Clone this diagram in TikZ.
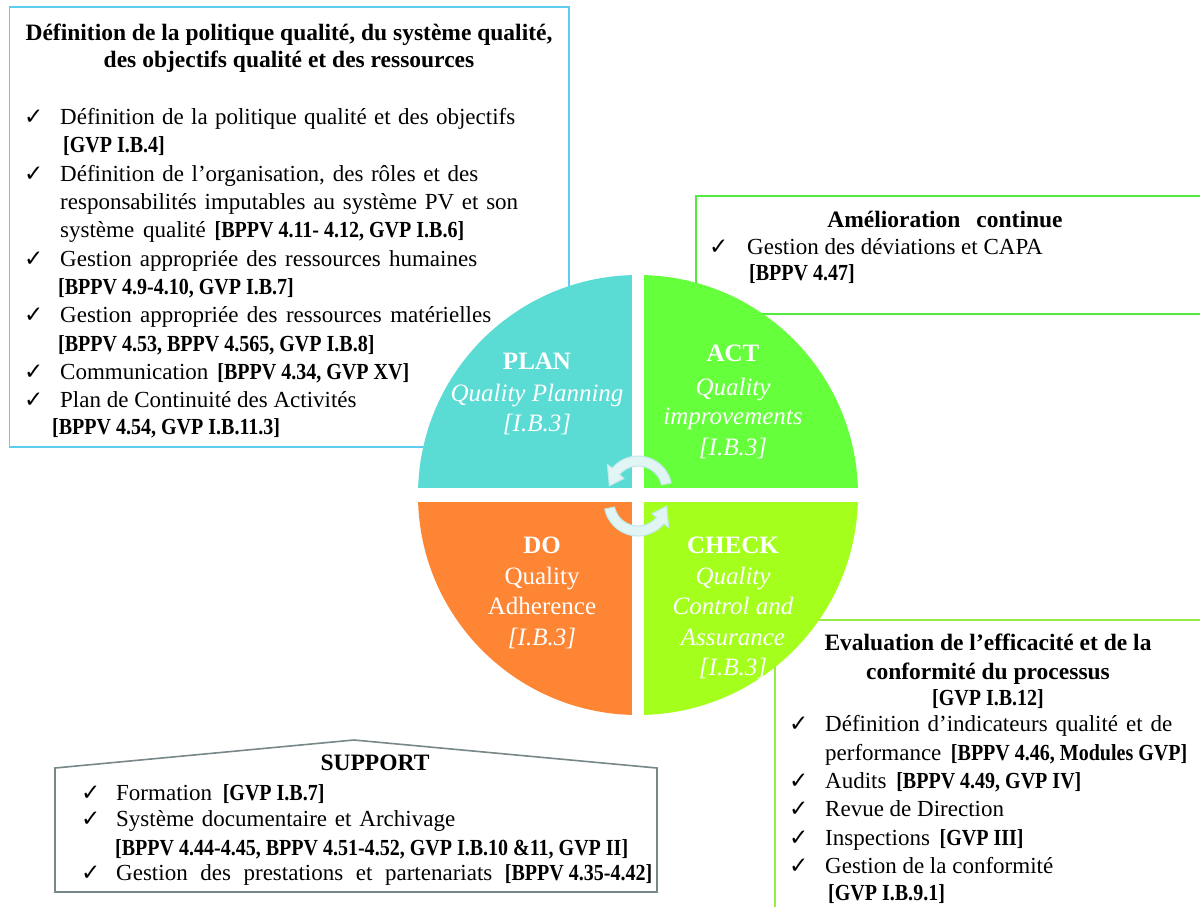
\documentclass[tikz,border=0pt]{standalone}
\usepackage{fontspec}
\setmainfont{Liberation Serif}
\newfontfamily\refserif{Liberation Serif}[FakeStretch=0.87]
\newfontfamily\chkfont{DejaVu Sans}
\newcommand{\refb}[1]{\mbox{\refserif\bfseries #1}}
\newcommand{\jline}[2]{\makebox[#1pt][s]{#2}}
\definecolor{planc}{RGB}{90,219,212}
\definecolor{actc}{RGB}{102,255,60}
\definecolor{doc}{RGB}{254,133,51}
\definecolor{checkc}{RGB}{164,255,28}
\definecolor{boxblue}{RGB}{95,205,240}
\definecolor{boxgreen}{RGB}{80,235,60}
\definecolor{boxlime}{RGB}{150,235,70}
\definecolor{boxgray}{RGB}{120,135,135}
\definecolor{arrfill}{RGB}{226,245,245}
\definecolor{arrline}{RGB}{190,232,232}
\tikzset{
  txt/.style={anchor=base west, inner sep=0pt, font=\fontsize{23}{28}\selectfont},
  ttl/.style={anchor=base, inner sep=0pt, font=\bfseries\fontsize{23.5}{28}\selectfont},
  ctr/.style={anchor=base, inner sep=0pt, font=\fontsize{23}{28}\selectfont},
  chk/.style={anchor=base west, inner sep=0pt, font=\chkfont\fontsize{23}{26}\selectfont},
  whead/.style={anchor=base, inner sep=0pt, text=white, font=\bfseries\fontsize{25}{30}\selectfont},
  wital/.style={anchor=base, inner sep=0pt, text=white, font=\itshape\fontsize{25}{30}\selectfont},
  wup/.style={anchor=base, inner sep=0pt, text=white, font=\fontsize{25}{30}\selectfont},
  frame/.style={line width=1.6pt},
  circarrow/.style={fill=arrfill, draw=arrline, line width=1pt, line join=round},
}
\begin{document}
\begin{tikzpicture}[x=1pt,y=-1pt]
\useasboundingbox (0,0) rectangle (1200,906);
\fill[white] (0,0) rectangle (1200,906);

% ---------- frames (behind the circle) ----------
\draw[frame, boxblue] (9.5,7) rectangle (569,447);
\draw[frame, boxgreen] (1210,196) -- (696,196) -- (696,314) -- (1210,314);
\draw[frame, boxlime] (775,915) -- (775,620) -- (1210,620);
\draw[frame, boxgray] (55,768) -- (354,740) -- (657,768) -- (657,892) -- (55,892) -- cycle;

% ---------- PDCA circle ----------
\begin{scope}
  \clip (638,495) circle[radius=220pt];
  \fill[planc]  (400,260) rectangle (632,488);
  \fill[actc]   (644,260) rectangle (880,488);
  \fill[doc]    (400,502) rectangle (632,730);
  \fill[checkc] (644,502) rectangle (880,730);
\end{scope}

% circular arrows
\begin{scope}[shift={(638,490)}]
  \filldraw[circarrow] (12:34pt) arc[start angle=12, end angle=140, radius=34pt]
    -- (140:40pt) -- (172:29pt) -- (140:18pt) -- (140:24pt)
    arc[start angle=140, end angle=12, radius=24pt] -- cycle;
\end{scope}
\begin{scope}[shift={(638,502)}]
  \filldraw[circarrow] (192:34pt) arc[start angle=192, end angle=320, radius=34pt]
    -- (320:40pt) -- (352:29pt) -- (320:18pt) -- (320:24pt)
    arc[start angle=320, end angle=192, radius=24pt] -- cycle;
\end{scope}

% quadrant labels
\node[whead] (plan)  at (537,369) {PLAN};
\node[wital] (plan2) at (537,401) {Quality Planning};
\node[wital] (plan3) at (537,431) {[I.B.3]};
\node[whead] (act)   at (733,361) {ACT};
\node[wital] (act2)  at (733,395) {Quality};
\node[wital] (act3)  at (733,424) {improvements};
\node[wital] (act4)  at (733,455) {[I.B.3]};
\node[whead] (do)    at (542,553) {DO};
\node[wup]   (do2)   at (542,584) {Quality};
\node[wup]   (do3)   at (542,614) {Adherence};
\node[wital] (do4)   at (542,645) {[I.B.3]};
\node[whead] (chk)   at (733,553) {CHECK};
\node[wital] (chk2)  at (733,584) {Quality};
\node[wital] (chk3)  at (733,614) {Control and};
\node[wital] (chk4)  at (733,645) {Assurance};
\node[wital] (chk5)  at (733,675) {[I.B.3]};

% ---------- top-left box ----------
\node[ttl] (t1) at (289,40) {Définition de la politique qualité, du système qualité,};
\node[ttl] (t2) at (289,67) {des objectifs qualité et des ressources};
\node[chk] (k1) at (24,124) {✓};
\node[txt] (a1) at (60,124) {\jline{455}{Définition de la politique qualité et des objectifs}};
\node[txt] (a1b) at (63,152) {\refb{[GVP I.B.4]}};
\node[chk] (k2) at (24,181) {✓};
\node[txt] (a2) at (60,181) {\jline{418}{Définition de l’organisation, des rôles et des}};
\node[txt] (a2b) at (60,209) {\jline{458}{responsabilités imputables au système PV et son}};
\node[txt] (a2c) at (60,237) {\jline{404}{système qualité \refb{[BPPV 4.11- 4.12, GVP I.B.6]}}};
\node[chk] (k3) at (24,266) {✓};
\node[txt] (a3) at (60,266) {\jline{417}{Gestion appropriée des ressources humaines}};
\node[txt] (a3b) at (58,294) {\refb{[BPPV 4.9-4.10, GVP I.B.7]}};
\node[chk] (k4) at (24,322) {✓};
\node[txt] (a4) at (60,322) {\jline{431}{Gestion appropriée des ressources matérielles}};
\node[txt] (a4b) at (58,351) {\refb{[BPPV 4.53, BPPV 4.565, GVP I.B.8]}};
\node[chk] (k5) at (24,379) {✓};
\node[txt] (a5) at (60,379) {\jline{349}{Communication \refb{[BPPV 4.34, GVP XV]}}};
\node[chk] (k6) at (24,407) {✓};
\node[txt] (a6) at (60,407) {Plan de Continuité des Activités};
\node[txt] (a6b) at (52,434) {\refb{[BPPV 4.54, GVP I.B.11.3]}};

% ---------- top-right box ----------
\node[ttl] (r0) at (945,227) {Amélioration\hspace{10pt} continue};
\node[chk] (rk1) at (709,254) {✓};
\node[txt] (r1) at (747,254) {Gestion des déviations et CAPA};
\node[txt] (r1b) at (749,280) {\refb{[BPPV 4.47]}};

% ---------- bottom-right box ----------
\node[ttl] (e1) at (988,650) {Evaluation de l’efficacité et de la};
\node[ttl] (e2) at (988,679) {conformité du processus};
\node[ctr] (e3) at (988,705) {\refb{[GVP I.B.12]}};
\node[chk] (ek1) at (789,731) {✓};
\node[txt] (e4) at (825,731) {\jline{347}{Définition d’indicateurs qualité et de}};
\node[txt] (e4b) at (825,760) {\jline{362}{performance \refb{[BPPV 4.46, Modules GVP]}}};
\node[chk] (ek2) at (789,788) {✓};
\node[txt] (e5) at (825,788) {Audits\hspace{4pt} \refb{[BPPV 4.49, GVP IV]}};
\node[chk] (ek3) at (789,816) {✓};
\node[txt] (e6) at (825,816) {Revue de Direction};
\node[chk] (ek4) at (789,845) {✓};
\node[txt] (e7) at (825,845) {Inspections\hspace{4pt} \refb{[GVP III]}};
\node[chk] (ek5) at (789,873) {✓};
\node[txt] (e8) at (825,873) {Gestion de la conformité};
\node[txt] (e8b) at (828,900) {\refb{[GVP I.B.9.1]}};

% ---------- support box ----------
\node[ttl] (s0) at (375,770) {SUPPORT};
\node[chk] (sk1) at (81,800) {✓};
\node[txt] (s1) at (116,800) {Formation\hspace{5pt} \refb{[GVP I.B.7]}};
\node[chk] (sk2) at (81,826) {✓};
\node[txt] (s2) at (116,826) {\jline{339}{Système documentaire et Archivage}};
\node[txt] (s2b) at (115,855) {\refb{[BPPV 4.44-4.45, BPPV 4.51-4.52, GVP I.B.10 \&11, GVP II]}};
\node[chk] (sk3) at (81,880) {✓};
\node[txt] (s3) at (116,880) {\jline{536}{Gestion des prestations et partenariats \refb{[BPPV 4.35-4.42]}}};
\end{tikzpicture}
\end{document}
